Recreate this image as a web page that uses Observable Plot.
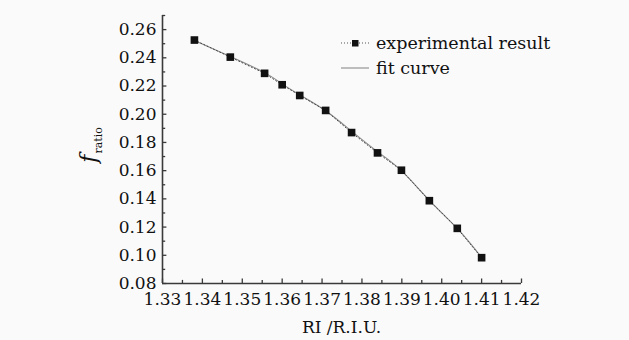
<!DOCTYPE html>
<html>
<head>
<meta charset="utf-8">
<script src="https://cdn.jsdelivr.net/npm/d3@7"></script>
<script src="https://cdn.jsdelivr.net/npm/@observablehq/plot@0.6"></script>
<style>
  html, body { margin: 0; padding: 0; background: #ffffff; }
  #chart svg { display: block; background: #fafafa; }
</style>
</head>
<body>
<div id="chart"></div>
<script>
const riExp = [1.3380, 1.3470, 1.3556, 1.3600, 1.3644, 1.3709, 1.3774, 1.3839, 1.3899, 1.3969, 1.4039, 1.4100];
const fExp  = [0.2526, 0.2405, 0.2290, 0.2209, 0.2133, 0.2027, 0.1870, 0.1726, 0.1603, 0.1387, 0.1191, 0.0983];
// Fit curve
const riFit = [1.3380, 1.3470, 1.3556, 1.3600, 1.3644, 1.3709, 1.3774, 1.3839, 1.3899, 1.3969, 1.4039, 1.4100];
const fFit  = [0.2522, 0.2410, 0.2295, 0.2215, 0.2138, 0.2025, 0.1880, 0.1735, 0.1600, 0.1390, 0.1190, 0.0985];
// Axes
const xTicks = [1.33, 1.34, 1.35, 1.36, 1.37, 1.38, 1.39, 1.40, 1.41, 1.42];
const xMinor = [1.335, 1.345, 1.355, 1.365, 1.375, 1.385, 1.395, 1.405, 1.415];
const yTicks = [0.08, 0.10, 0.12, 0.14, 0.16, 0.18, 0.20, 0.22, 0.24, 0.26];
const yMinor = [0.09, 0.11, 0.13, 0.15, 0.17, 0.19, 0.21, 0.23, 0.25, 0.27];
const legendLabels = ["experimental result", "fit curve"];
const xLabel = "RI /R.I.U.";

const exp = riExp.map((x, i) => ({x, y: fExp[i]}));
const fit = riFit.map((x, i) => ({x, y: fFit[i]}));

const font = "'DejaVu Serif', 'Liberation Serif', serif";
const axisColor = "#3a3a3a";
const fs = 17;

const plot = Plot.plot({
  width: 629,
  height: 340,
  marginLeft: 162,
  marginRight: 108,
  marginTop: 15,
  marginBottom: 57,
  style: {fontFamily: font, fontSize: fs + "px", color: "#111", background: "#fafafa"},
  x: {domain: [1.33, 1.42]},
  y: {domain: [0.08, 0.27]},
  marks: [
    Plot.axisX({ticks: xTicks, tickSize: 0, tickPadding: 9, tickFormat: d3.format(".2f"), label: null, fontSize: fs, fill: "#111"}),
    Plot.axisY({ticks: yTicks, tickSize: 0, tickPadding: 6, tickFormat: d3.format(".2f"), label: null, fontSize: fs, fill: "#111"}),
    Plot.ruleX(xTicks, {x: d => d, y1: 0.08, y2: 0.0832, stroke: axisColor, strokeWidth: 1.3}),
    Plot.ruleX(xMinor, {x: d => d, y1: 0.08, y2: 0.0822, stroke: axisColor, strokeWidth: 1.3}),
    Plot.ruleY(yTicks, {y: d => d, x1: 1.33, x2: 1.3311, stroke: axisColor, strokeWidth: 1.3}),
    Plot.ruleY(yMinor, {y: d => d, x1: 1.33, x2: 1.3308, stroke: axisColor, strokeWidth: 1.3}),
    Plot.ruleX([1.33], {y1: 0.08, y2: 0.27, stroke: axisColor, strokeWidth: 1.6}),
    Plot.ruleY([0.08], {x1: 1.33, x2: 1.42, stroke: axisColor, strokeWidth: 1.6}),
    Plot.line(fit, {x: "x", y: "y", curve: "natural", stroke: "#8a8a8a", strokeWidth: 1.1}),
    Plot.line(exp, {x: "x", y: "y", stroke: "#444", strokeWidth: 1, strokeDasharray: "1,2.5"}),
    Plot.dot(exp, {x: "x", y: "y", symbol: "square", r: 4.3, fill: "#111", stroke: "none"})
  ]
});

const svg = d3.select(plot);

// Legend
const lg = svg.append("g").attr("font-family", font).attr("font-size", 17.5)
  .attr("fill", "#111").attr("text-anchor", "start");
lg.append("line").attr("x1", 341).attr("x2", 369).attr("y1", 43).attr("y2", 43)
  .attr("stroke", "#555").attr("stroke-width", 1).attr("stroke-dasharray", "1,2");
lg.append("rect").attr("x", 352).attr("y", 40).attr("width", 6.5).attr("height", 6.5).attr("fill", "#111");
lg.append("text").attr("x", 376).attr("y", 43).attr("dy", "0.35em").text(legendLabels[0]);
lg.append("line").attr("x1", 341).attr("x2", 369).attr("y1", 68).attr("y2", 68)
  .attr("stroke", "#8a8a8a").attr("stroke-width", 1.1);
lg.append("text").attr("x", 376).attr("y", 68).attr("dy", "0.35em").text(legendLabels[1]);

// Axis titles
svg.append("text").attr("x", 341.5).attr("y", 333).attr("text-anchor", "middle")
  .attr("font-family", font).attr("font-size", fs).attr("fill", "#111").text(xLabel);

const yl = svg.append("text").attr("transform", "translate(96,145) rotate(-90)")
  .attr("text-anchor", "middle").attr("font-family", font).attr("fill", "#111");
yl.append("tspan").attr("font-size", 22).attr("font-style", "italic").text("f");
yl.append("tspan").attr("font-size", 11).attr("dy", 6).attr("dx", 1).text("ratio");

document.getElementById("chart").appendChild(plot);
</script>
</body>
</html>
